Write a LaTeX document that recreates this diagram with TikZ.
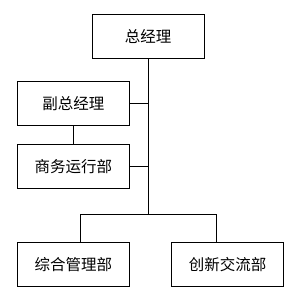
\documentclass[tikz,border=0pt]{standalone}
\usepackage{fontspec}
\newfontfamily\cjk{Noto Sans CJK SC}
\begin{document}
\begin{tikzpicture}[x=1pt,y=-1pt,
  box/.style={draw,line width=1pt,minimum width=112pt,minimum height=44pt,inner sep=0pt,font=\cjk\fontsize{15.5}{18}\selectfont},
  conn/.style={line width=1pt}]
\useasboundingbox (0,0) rectangle (300,300);
\node[box] (gm) at (148,36.3) {总经理};
\node[box] (vgm) at (73.3,103.5) {副总经理};
\node[box] (biz) at (73.3,166.3) {商务运行部};
\node[box] (adm) at (73.3,264.7) {综合管理部};
\node[box] (inn) at (227.5,264.7) {创新交流部};
\coordinate (bus) at (148,214.3);
\coordinate (busl) at (80.7,214.3);
\coordinate (busr) at (216.7,214.3);
\draw[conn] (gm.south) -- (bus);
\draw[conn] (vgm.east) -- (vgm.east -| gm.south);
\draw[conn] (biz.east) -- (biz.east -| gm.south);
\draw[conn] (vgm.south) -- (biz.north);
\draw[conn] (busl) -- (busr);
\draw[conn] (busl) -- (busl |- adm.north);
\draw[conn] (busr) -- (busr |- inn.north);
\end{tikzpicture}
\end{document}
